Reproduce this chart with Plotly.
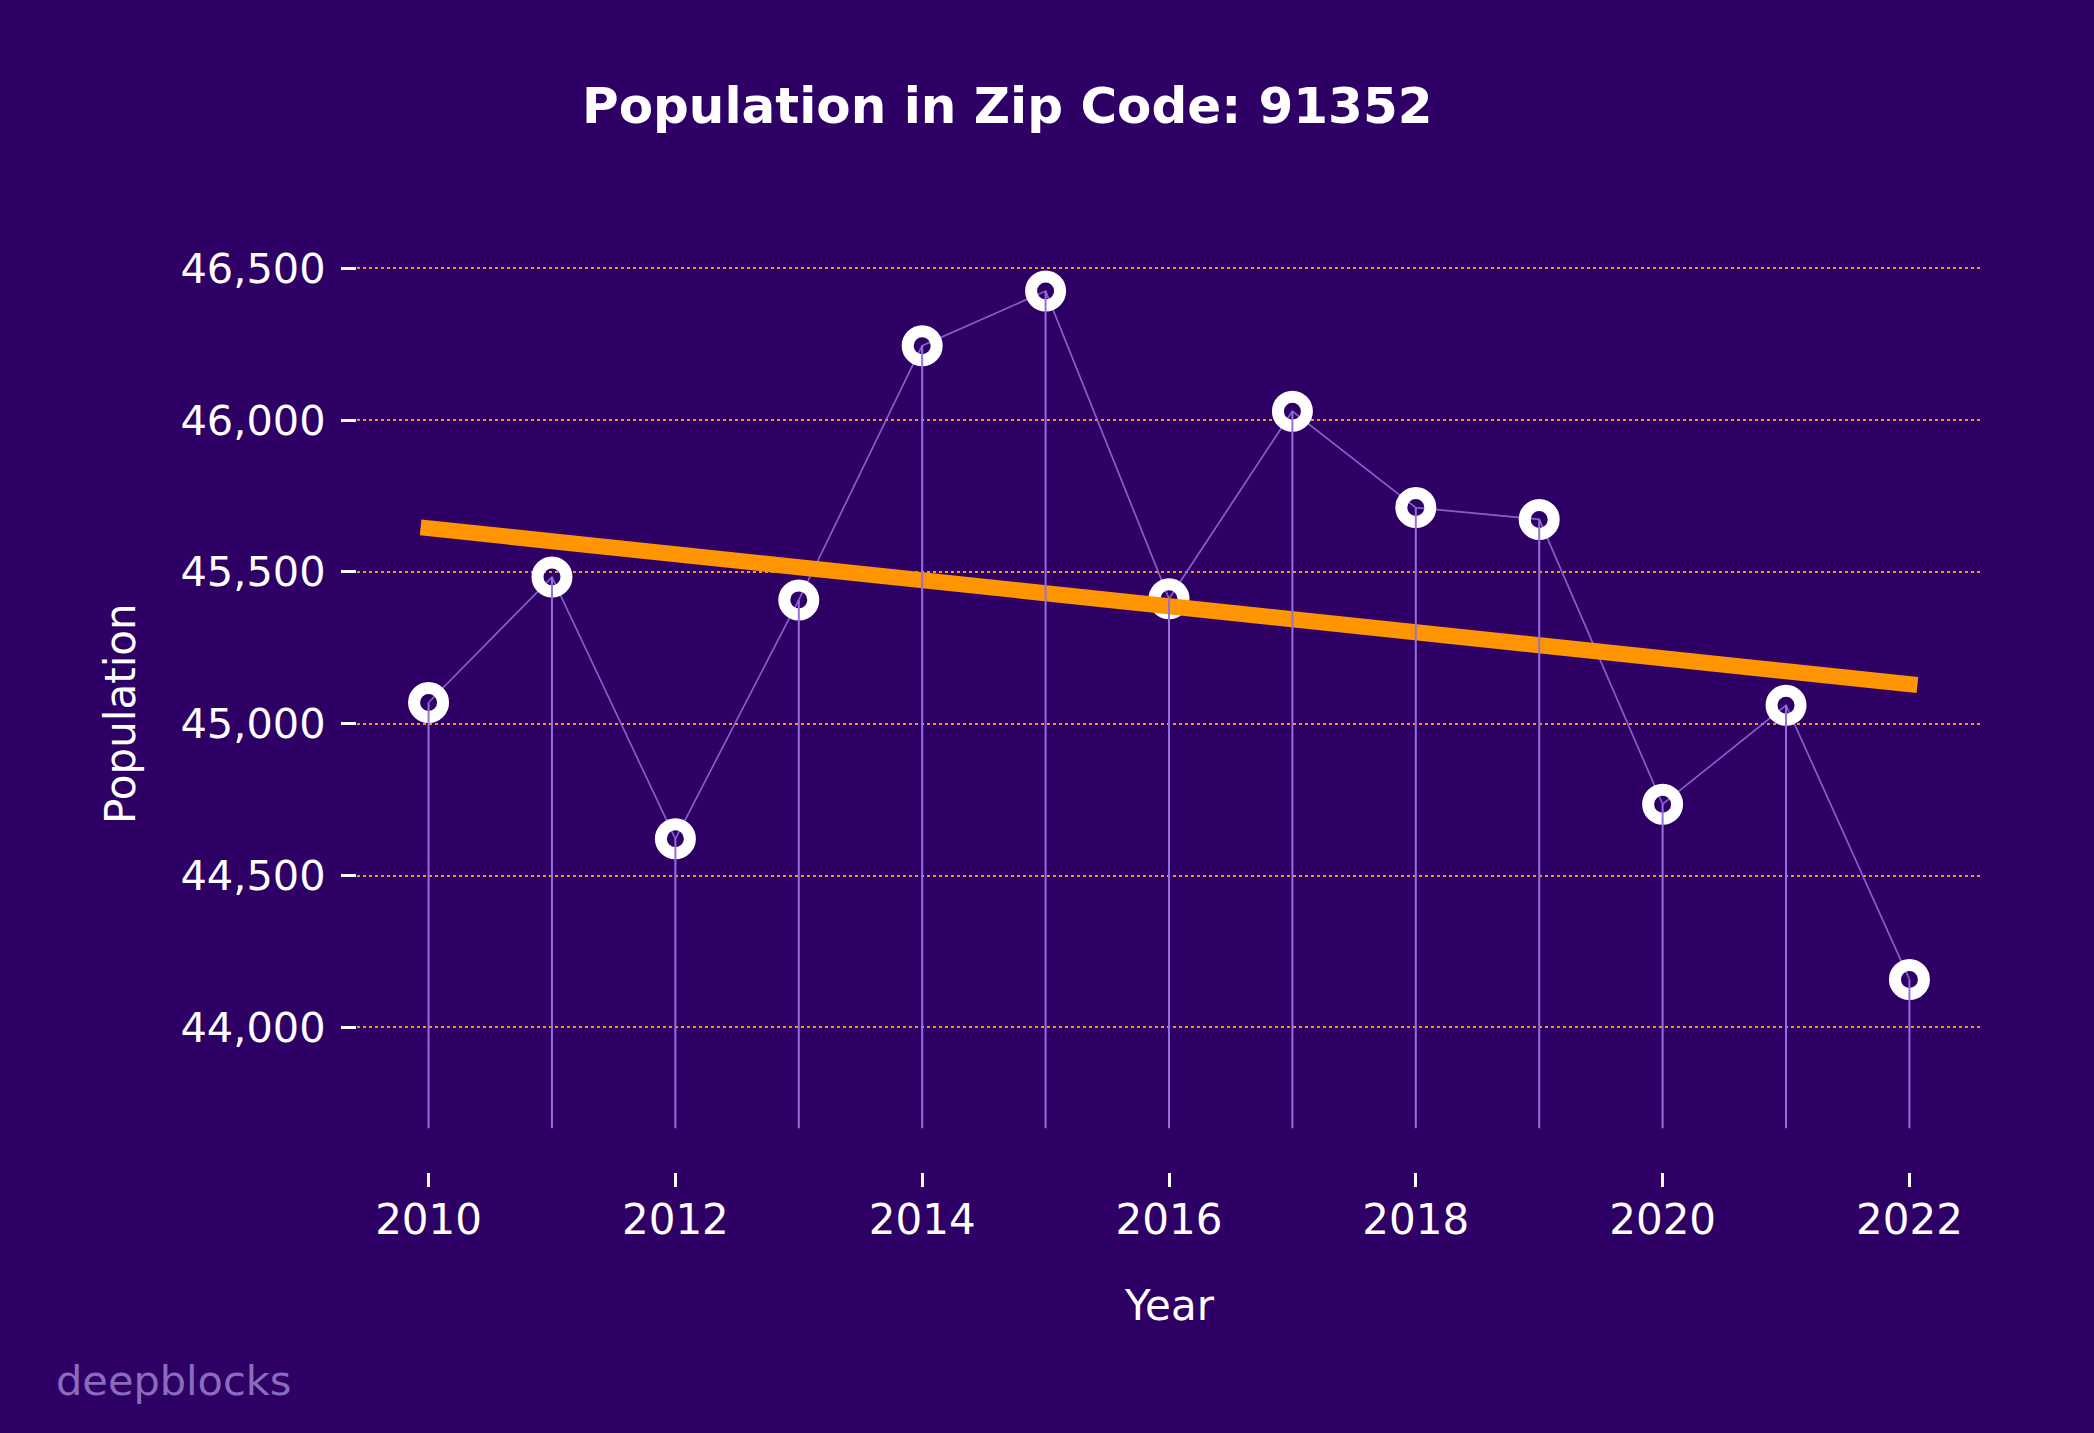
import numpy as np
import plotly.graph_objects as go

# ---------------- data ----------------
years = [2010, 2011, 2012, 2013, 2014, 2015, 2016, 2017, 2018, 2019, 2020, 2021, 2022]
population = [45070, 45483, 44621, 45408, 46245, 46425, 45412, 46029, 45712, 45673, 44735, 45061, 44158]
x_tick_vals = [2010, 2012, 2014, 2016, 2018, 2020, 2022]
y_tick_vals = [44000, 44500, 45000, 45500, 46000, 46500]
y_tick_text = ["44,000", "44,500", "45,000", "45,500", "46,000", "46,500"]
stem_base = 43667
title_text = "Population in Zip Code: 91352"
x_title = "Year"
y_title = "Population"
watermark = "deepblocks"

# ---------------- style ----------------
W, H = 2094, 1433
BG = "#2e0066"
FONT = "DejaVu Sans"
ORANGE = "#ff9500"
STEM = "#9370DB"
X_RANGE = [2009.42, 2022.58]
Y_RANGE = [stem_base, 46725]
M_L, M_R, M_T, M_B = 357, 113, 200, 261
TREND_W = 16

plot_w = W - M_L - M_R
px_per_year = plot_w / (X_RANGE[1] - X_RANGE[0])

# trend line (linear regression of the series)
coef = np.polyfit(years, population, 1)
pad = (TREND_W / 2) / px_per_year
trend_x = [years[0] - pad, years[-1] + pad]
trend_y = list(np.polyval(coef, trend_x))

# stems
stem_x, stem_y = [], []
for x, y in zip(years, population):
    stem_x += [x, x, None]
    stem_y += [y, stem_base, None]

fig = go.Figure()
fig.add_trace(go.Scatter(x=years, y=population, mode="lines",
                         line=dict(color="rgba(147,112,219,0.85)", width=1.7),
                         hoverinfo="skip", showlegend=False))
fig.add_trace(go.Scatter(x=years, y=population, mode="markers",
                         marker=dict(size=29, color="rgba(0,0,0,0)",
                                     line=dict(color="white", width=12)),
                         showlegend=False))
fig.add_trace(go.Scatter(x=trend_x, y=trend_y, mode="lines",
                         line=dict(color=ORANGE, width=TREND_W),
                         hoverinfo="skip", showlegend=False))
fig.add_trace(go.Scatter(x=stem_x, y=stem_y, mode="lines",
                         line=dict(color=STEM, width=2),
                         hoverinfo="skip", showlegend=False))

def px_to_paper_x(px):
    return (px - M_L) / plot_w

def px_to_paper_y(py):
    return (H - M_B - py) / (H - M_T - M_B)

plot_h = H - M_T - M_B
y_dom_bottom = (H - M_B - 1128.5) / plot_h

fig.update_layout(
    width=W, height=H,
    paper_bgcolor=BG, plot_bgcolor=BG,
    margin=dict(l=M_L, r=M_R, t=M_T, b=M_B, autoexpand=False),
    font=dict(family=FONT, color="white", size=42),
    showlegend=False,
    xaxis=dict(range=X_RANGE, anchor="free", position=0,
               tickvals=x_tick_vals, ticks="outside", ticklen=14, tickwidth=2.5,
               tickcolor="white", showgrid=False, zeroline=False, showline=False,
               tickfont=dict(family=FONT, size=42, color="white"),
               ticklabelstandoff=-3),
    yaxis=dict(range=Y_RANGE, domain=[y_dom_bottom, 1],
               tickvals=y_tick_vals, ticktext=y_tick_text,
               ticks="outside", ticklen=15, tickwidth=2.5, tickcolor="white",
               showgrid=True, gridcolor=ORANGE, gridwidth=2, griddash="dot",
               zeroline=False, showline=False,
               tickfont=dict(family=FONT, size=41.5, color="white"),
               ticklabelstandoff=7),
    annotations=[
        dict(text="<b>" + title_text + "</b>", x=px_to_paper_x(1007), y=px_to_paper_y(106),
             xref="paper", yref="paper", xanchor="center", yanchor="middle",
             showarrow=False, font=dict(family=FONT, size=50, color="white")),
        dict(text=x_title, x=px_to_paper_x(1169), y=px_to_paper_y(1305),
             xref="paper", yref="paper", xanchor="center", yanchor="middle",
             showarrow=False, font=dict(family=FONT, size=42, color="white")),
        dict(text=y_title, x=px_to_paper_x(120), y=px_to_paper_y(714), textangle=-90,
             xref="paper", yref="paper", xanchor="center", yanchor="middle",
             showarrow=False, font=dict(family=FONT, size=42, color="white")),
        dict(text=watermark, x=px_to_paper_x(54), y=px_to_paper_y(1380),
             xref="paper", yref="paper", xanchor="left", yanchor="middle",
             showarrow=False, font=dict(family=FONT, size=41.5, color="#8a6cbc")),
    ],
)

fig.write_html("out.html",
               config={"displayModeBar": False},
               post_script="document.body.style.margin='0';document.body.style.background='" + BG + "';")
